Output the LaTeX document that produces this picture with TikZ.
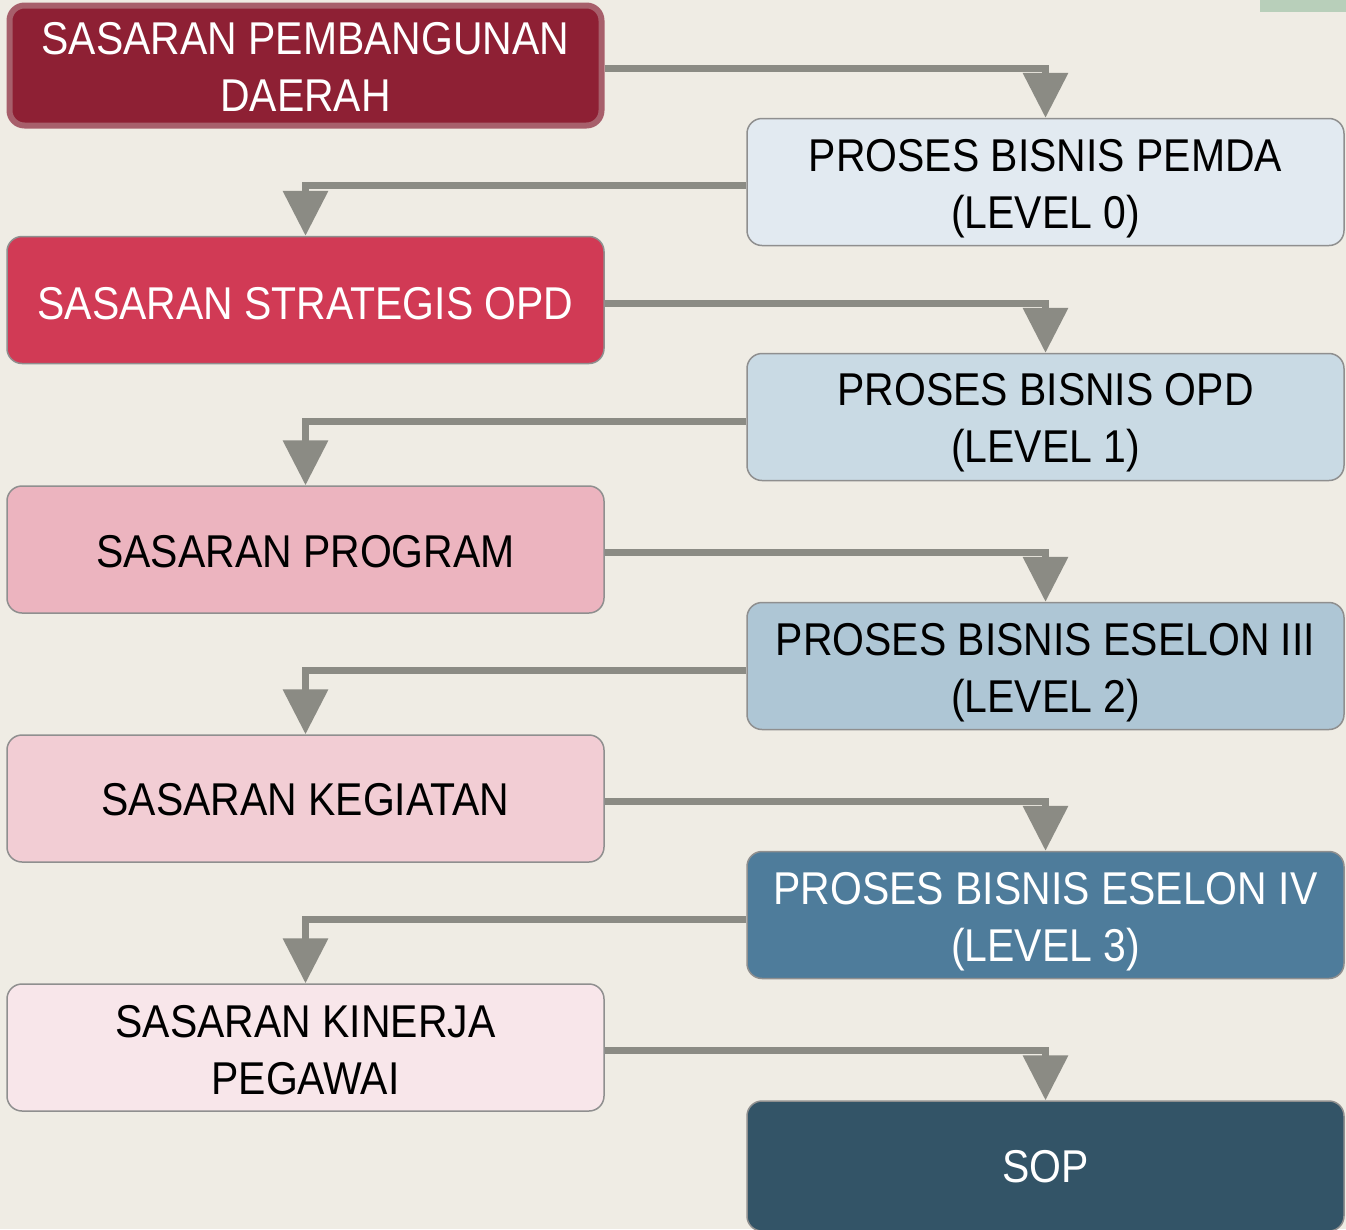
\documentclass[tikz,border=0pt]{standalone}
\usepackage{fontspec}
\setmainfont{Liberation Sans}[FakeStretch=0.89]
\usetikzlibrary{arrows.meta}
\definecolor{bg}{HTML}{EFECE4}
\definecolor{tabgreen}{HTML}{B8CFBA}
\definecolor{arrowgray}{HTML}{8B8B84}
\definecolor{boxline}{HTML}{8F8F8F}
\definecolor{lA}{HTML}{8E2034}
\definecolor{lAline}{HTML}{A75F6B}
\definecolor{lB}{HTML}{D13A55}
\definecolor{lC}{HTML}{ECB4BF}
\definecolor{lD}{HTML}{F2CDD4}
\definecolor{lE}{HTML}{F8E6EA}
\definecolor{rA}{HTML}{E2EAF1}
\definecolor{rB}{HTML}{C9DAE4}
\definecolor{rC}{HTML}{AEC6D5}
\definecolor{rD}{HTML}{4E7C9B}
\definecolor{rE}{HTML}{335467}
\newcommand\boxtxt[2]{\raisebox{-#1}[\height][\depth]{\begin{tabular}{@{}c@{}}#2\end{tabular}}}
\begin{document}
\begin{tikzpicture}[x=1pt,y=-1pt,
  box/.style={rectangle, rounded corners=15pt, draw=boxline, line width=1.5pt,
    minimum width=597pt, minimum height=127pt, inner sep=0pt, align=center,
    font=\fontsize{46}{57}\selectfont},
  conn/.style={draw=arrowgray, line width=7pt, line join=miter,
    -{Triangle[width=44pt,length=45pt]}}]
\useasboundingbox (0,0) rectangle (1346,1229);
\fill[bg] (0,0) rectangle (1346,1229);
\fill[tabgreen] (1260,0) rectangle (1346,12);

% left column
\node[box, fill=lA, draw=lAline, line width=6pt, minimum width=592pt, minimum height=120pt, text=white] (l1) at (305.5,65.5) {\boxtxt{6.5pt}{SASARAN PEMBANGUNAN\\DAERAH}};
\node[box, fill=lB, text=white] (l2) at (305.5,300) {\boxtxt{8pt}{SASARAN STRATEGIS OPD}};
\node[box, fill=lC, text=black] (l3) at (305.5,549.5) {\boxtxt{6.5pt}{SASARAN PROGRAM}};
\node[box, fill=lD, text=black] (l4) at (305.5,798.5) {\boxtxt{6pt}{SASARAN KEGIATAN}};
\node[box, fill=lE, text=black] (l5) at (305.5,1047.5) {\boxtxt{7.5pt}{SASARAN KINERJA\\PEGAWAI}};

% right column
\node[box, fill=rA, text=black] (r1) at (1045.5,182) {\boxtxt{6.5pt}{PROSES BISNIS PEMDA\\(LEVEL 0)}};
\node[box, fill=rB, text=black] (r2) at (1045.5,417) {\boxtxt{6pt}{PROSES BISNIS OPD\\(LEVEL 1)}};
\node[box, fill=rC, text=black] (r3) at (1045.5,666) {\boxtxt{6.5pt}{PROSES BISNIS ESELON III\\(LEVEL 2)}};
\node[box, fill=rD, text=white] (r4) at (1045.5,915) {\boxtxt{7pt}{PROSES BISNIS ESELON IV\\(LEVEL 3)}};
\node[box, fill=rE, text=white, minimum height=130pt] (r5) at (1045.5,1166) {\boxtxt{5pt}{SOP}};

% connectors
\draw[conn] ([yshift=-3pt]l1.east) -| (r1.north);
\draw[conn] ([yshift=-3pt]r1.west) -| (l2.north);
\draw[conn] ([yshift=-3pt]l2.east) -| (r2.north);
\draw[conn] ([yshift=-4pt]r2.west) -| (l3.north);
\draw[conn] ([yshift=-3pt]l3.east) -| (r3.north);
\draw[conn] ([yshift=-4pt]r3.west) -| (l4.north);
\draw[conn] ([yshift=-3pt]l4.east) -| (r4.north);
\draw[conn] ([yshift=-4pt]r4.west) -| (l5.north);
\draw[conn] ([yshift=-3pt]l5.east) -| (r5.north);
\end{tikzpicture}
\end{document}
